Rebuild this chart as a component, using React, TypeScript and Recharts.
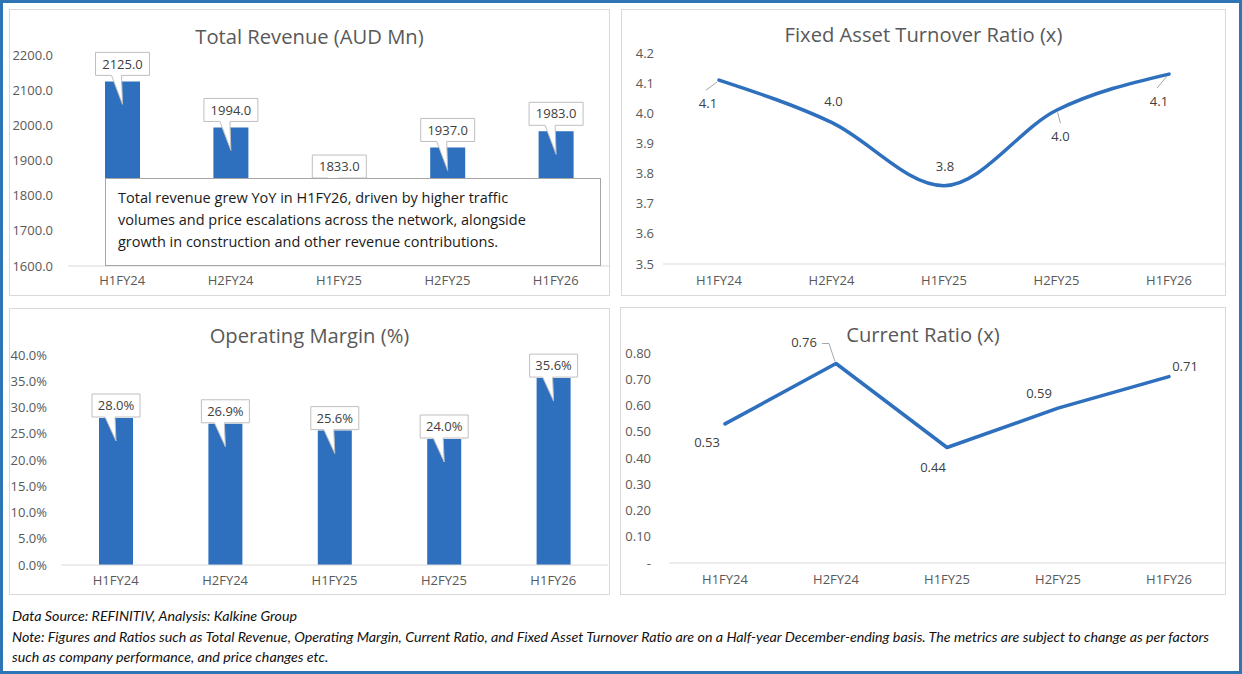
import React from 'react';
import { BarChart, Bar, LineChart, Line, XAxis, YAxis, LabelList } from 'recharts';

// periods shared by all four panels
const periods = ['H1FY24', 'H2FY24', 'H1FY25', 'H2FY25', 'H1FY26'];

const totalRevenue = [2125.0, 1994.0, 1833.0, 1937.0, 1983.0];
const operatingMargin = [28.0, 26.9, 25.6, 24.0, 35.6];
const fixedAssetTurnover = [4.11, 3.97, 3.76, 4.01, 4.13];
const currentRatio = [0.53, 0.76, 0.44, 0.59, 0.71];

const revenueTicks = [1600, 1700, 1800, 1900, 2000, 2100, 2200];
const marginTicks = [0, 5, 10, 15, 20, 25, 30, 35, 40];
const turnoverTicks = [3.5, 3.6, 3.7, 3.8, 3.9, 4.0, 4.1, 4.2];
const ratioTicks = [0, 0.1, 0.2, 0.3, 0.4, 0.5, 0.6, 0.7, 0.8];

const revenueNote = [
  'Total revenue grew YoY in H1FY26, driven by higher traffic',
  'volumes and price escalations across the network, alongside',
  'growth in construction and other revenue contributions.',
];

const BLUE = '#2E6FBE';
const GREY_TEXT = '#595959';
const FONT = '"Open Sans", sans-serif';

const toRows = (values: number[]) => periods.map((p, i) => ({ period: p, value: values[i] }));

// label placement for the line charts (offsets from the point, leader lines)
const turnoverOffsets = [[-11, 23], [2, -21], [1, -19], [4, 26], [-10, 27]];
const turnoverLeaders: (number[][] | null)[] = [
  [[-2, 2], [-13, 10]],
  null,
  null,
  [[1, 2], [4, 13]],
  [[-2, 2], [-12, 14]],
];
const ratioOffsets = [[-18, 18], [-32, -21], [-14, 20], [-19, -15], [16, -10]];
const ratioLeaders: (number[][] | null)[] = [
  null,
  [[-1, -2], [-7, -20], [-14, -20]],
  null,
  null,
  null,
];

const tickStyle = { fill: GREY_TEXT, fontSize: 13, fontFamily: FONT };

const Callout = (props: any) => {
  const { x, y, width, value, fmt, boxW, gap } = props;
  const cx = x + width / 2;
  const h = 23;
  const bottom = y - gap;
  const top = bottom - h;
  const l = cx - boxW / 2;
  const r = cx + boxW / 2;
  const tipY = y + 23;
  const d = `M${l},${top}H${r}V${bottom}H${cx - 1}L${cx},${tipY}L${cx - 11},${bottom}H${l}Z`;
  return (
    <g>
      <path d={d} fill="#fff" stroke="#bfbfbf" strokeWidth={1} />
      <text x={cx} y={top + h / 2} dy="0.36em" textAnchor="middle" fill="#404040" fontSize={13} fontFamily={FONT}>
        {fmt(value)}
      </text>
    </g>
  );
};

const LineLabel = (props: any) => {
  const { x, y, value, index, offsets, leaders, fmt } = props;
  const [dx, dy] = offsets[index];
  const leader = leaders[index];
  return (
    <g>
      {leader && (
        <polyline
          points={leader.map((p: number[]) => `${x + p[0]},${y + p[1]}`).join(' ')}
          fill="none"
          stroke="#a6a6a6"
          strokeWidth={1}
        />
      )}
      <text x={x + dx} y={y + dy} dy="0.36em" textAnchor="middle" fill="#404040" fontSize={13} fontFamily={FONT}>
        {fmt(value)}
      </text>
    </g>
  );
};

const Panel = ({ left, top, width, height, title, titleY, children }: any) => (
  <div
    style={{
      position: 'absolute',
      left,
      top,
      width,
      height,
      background: '#fff',
      boxShadow: 'inset 0 0 0 1px #d9d9d9',
    }}
  >
    <div
      style={{
        position: 'absolute',
        left: 0,
        top: titleY - 14,
        width: '100%',
        lineHeight: '28px',
        textAlign: 'center',
        fontFamily: FONT,
        fontSize: 20.2,
        color: GREY_TEXT,
      }}
    >
      {title}
    </div>
    <div style={{ position: 'absolute', left: 0, top: 0 }}>{children}</div>
  </div>
);

const App = () => {
  return (
    <div
      style={{
        position: 'relative',
        width: 1242,
        height: 674,
        boxSizing: 'border-box',
        border: '3px solid #2E75B6',
        background: '#fff',
        overflow: 'hidden',
      }}
    >
      <style>{'body{margin:0;}'}</style>

      {/* panel offsets are relative to the 3px outer border */}
      <Panel left={6} top={6} width={601} height={287} title="Total Revenue (AUD Mn)" titleY={27}>
        <BarChart width={601} height={287} data={toRows(totalRevenue)} margin={{ top: 46, right: 0, left: 0, bottom: 0 }}>
          <XAxis
            dataKey="period"
            height={30}
            tickSize={0}
            tickMargin={10}
            tickLine={false}
            axisLine={{ stroke: '#d9d9d9' }}
            tick={tickStyle}
          />
          <YAxis
            width={59}
            domain={[1600, 2200]}
            ticks={revenueTicks}
            allowDataOverflow
            tickSize={0}
            tickMargin={15}
            axisLine={false}
            tickLine={false}
            tick={tickStyle}
            tickFormatter={(v: number) => v.toFixed(1)}
          />
          <Bar dataKey="value" fill={BLUE} barSize={35} isAnimationActive={false}>
            <LabelList
              dataKey="value"
              content={(p: any) => <Callout {...p} boxW={54} gap={6} fmt={(v: number) => v.toFixed(1)} />}
            />
          </Bar>
        </BarChart>
      </Panel>

      <div
        style={{
          position: 'absolute',
          left: 102,
          top: 175,
          width: 496,
          height: 88,
          boxSizing: 'border-box',
          border: '1px solid #a6a6a6',
          background: '#fff',
          padding: '8px 0 0 12px',
          fontFamily: FONT,
          fontSize: 14.5,
          lineHeight: '22px',
          color: '#1a1a1a',
          whiteSpace: 'nowrap',
          zIndex: 2,
        }}
      >
        {revenueNote.map((line) => (
          <div key={line}>{line}</div>
        ))}
      </div>

      <Panel left={618} top={6} width={605} height={287} title="Fixed Asset Turnover Ratio (x)" titleY={25}>
        <LineChart width={605} height={287} data={toRows(fixedAssetTurnover)} margin={{ top: 44, right: 1, left: 0, bottom: 0 }}>
          <XAxis
            dataKey="period"
            height={32}
            padding={{ left: 56, right: 56 }}
            tickSize={0}
            tickMargin={12}
            tickLine={false}
            axisLine={{ stroke: '#d9d9d9' }}
            tick={tickStyle}
          />
          <YAxis
            width={42}
            domain={[3.5, 4.2]}
            ticks={turnoverTicks}
            tickSize={0}
            tickMargin={9}
            axisLine={false}
            tickLine={false}
            tick={tickStyle}
            tickFormatter={(v: number) => v.toFixed(1)}
          />
          <Line
            type="monotone"
            dataKey="value"
            stroke={BLUE}
            strokeWidth={3.5}
            dot={false}
            strokeLinecap="round"
            isAnimationActive={false}
          >
            <LabelList
              dataKey="value"
              content={(p: any) => (
                <LineLabel {...p} offsets={turnoverOffsets} leaders={turnoverLeaders} fmt={(v: number) => v.toFixed(1)} />
              )}
            />
          </Line>
        </LineChart>
      </Panel>

      <Panel left={6} top={305} width={601} height={287} title="Operating Margin (%)" titleY={27}>
        <BarChart width={601} height={287} data={toRows(operatingMargin)} margin={{ top: 47, right: 2, left: 0, bottom: 0 }}>
          <XAxis
            dataKey="period"
            height={30}
            tickSize={0}
            tickMargin={11}
            tickLine={false}
            axisLine={{ stroke: '#d9d9d9' }}
            tick={tickStyle}
          />
          <YAxis
            width={52}
            domain={[0, 40]}
            ticks={marginTicks}
            tickSize={0}
            tickMargin={14}
            axisLine={false}
            tickLine={false}
            tick={tickStyle}
            tickFormatter={(v: number) => `${v.toFixed(1)}%`}
          />
          <Bar dataKey="value" fill={BLUE} barSize={34} isAnimationActive={false}>
            <LabelList
              dataKey="value"
              content={(p: any) => <Callout {...p} boxW={48} gap={1} fmt={(v: number) => `${v.toFixed(1)}%`} />}
            />
          </Bar>
        </BarChart>
      </Panel>

      <Panel left={617} top={304} width={606} height={288} title="Current Ratio (x)" titleY={27}>
        <LineChart width={606} height={288} data={toRows(currentRatio)} margin={{ top: 46, right: 1, left: 0, bottom: 0 }}>
          <XAxis
            dataKey="period"
            height={32}
            padding={{ left: 56, right: 56 }}
            tickSize={0}
            tickMargin={12}
            tickLine={false}
            axisLine={{ stroke: '#d9d9d9' }}
            tick={tickStyle}
          />
          <YAxis
            width={49}
            domain={[0, 0.8]}
            ticks={ratioTicks}
            tickSize={0}
            tickMargin={18}
            axisLine={false}
            tickLine={false}
            tick={tickStyle}
            tickFormatter={(v: number) => (v === 0 ? '-' : v.toFixed(2))}
          />
          <Line
            type="linear"
            dataKey="value"
            stroke={BLUE}
            strokeWidth={3.5}
            dot={false}
            strokeLinecap="round"
            strokeLinejoin="round"
            isAnimationActive={false}
          >
            <LabelList
              dataKey="value"
              content={(p: any) => (
                <LineLabel {...p} offsets={ratioOffsets} leaders={ratioLeaders} fmt={(v: number) => v.toFixed(2)} />
              )}
            />
          </Line>
        </LineChart>
      </Panel>

      <div
        style={{
          position: 'absolute',
          left: 9,
          top: 603,
          fontFamily: 'Lato, sans-serif',
          fontStyle: 'italic',
          fontSize: 14.25,
          lineHeight: '20.5px',
          color: '#111',
          whiteSpace: 'nowrap',
        }}
      >
        <div>Data Source: REFINITIV, Analysis: Kalkine Group</div>
        <div>
          Note: Figures and Ratios such as Total Revenue, Operating Margin, Current Ratio, and Fixed Asset Turnover Ratio are on a
          Half-year December-ending basis. The metrics are subject to change as per factors
        </div>
        <div>such as company performance, and price changes etc.</div>
      </div>
    </div>
  );
};

export default App;
